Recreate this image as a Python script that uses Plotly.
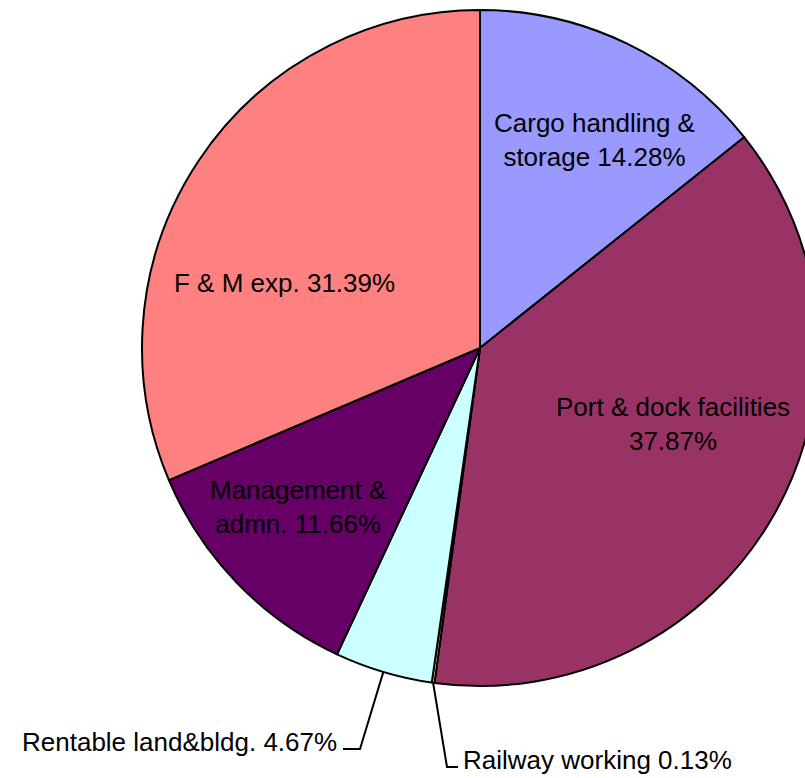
"""Operating expenditure share - pie chart"""

import math
import plotly.graph_objects as go

labels = [
    "Cargo handling & storage",
    "Port & dock facilities",
    "Railway working",
    "Rentable land&bldg.",
    "Management & admn.",
    "F & M exp.",
]
shares = [14.28, 37.87, 0.13, 4.67, 11.66, 31.39]
colors = ["#9999FF", "#993366", "#FFFFCC", "#CCFFFF", "#660066", "#FF8080"]

# figure geometry (pixels); the pie runs past the right edge of the window
W, H = 830, 778
ML, MR, MT, MB = 142, 12, 10, 92
SIDE = W - ML - MR
CX, CY, R = ML + SIDE / 2, MT + SIDE / 2, SIDE / 2


def to_paper(x, y):
    return (x - ML) / SIDE, 1 - (y - MT) / SIDE


def mid_angle(i):
    before = sum(shares[:i])
    return (before + shares[i] / 2) / sum(shares) * 2 * math.pi


def edge_point(i):
    a = mid_angle(i)
    return CX + R * math.sin(a), CY - R * math.cos(a)


# label text: where to break the line
breaks = {
    "Cargo handling & storage": "Cargo handling &<br>storage",
    "Port & dock facilities": "Port & dock facilities<br>",
    "Management & admn.": "Management &<br>admn.",
}

# label placement (pixels) and anchoring
label_pos = [
    (594, 140, "center"),
    (673, 424, "center"),
    (461, 760, "left"),
    (339, 742, "right"),
    (298, 507, "center"),
    (284, 283, "center"),
]
# elbows for leader lines of the small slices
leader = {
    2: [(447, 767), (458, 767)],
    3: [(360, 749), (343, 749)],
}

fig = go.Figure(go.Pie(
    labels=labels,
    values=shares,
    sort=False,
    direction="clockwise",
    rotation=0,
    textinfo="none",
    marker=dict(colors=colors, line=dict(color="black", width=2)),
    showlegend=False,
    hoverinfo="label+percent",
))

font = dict(family="Liberation Sans, Arial, sans-serif", size=26, color="black")

annotations = []
for i, lab in enumerate(labels):
    head = breaks.get(lab, lab)
    sep = "" if head.endswith("<br>") else " "
    text = f"{head}{sep}{shares[i]:.2f}%"
    x, y, anchor = label_pos[i]
    xp, yp = to_paper(x, y)
    annotations.append(dict(
        x=xp, y=yp, xref="paper", yref="paper", text=text,
        showarrow=False, xanchor=anchor, yanchor="middle", align="center",
        font=font,
    ))

shapes = []
for i, pts in leader.items():
    pts = [edge_point(i)] + pts
    path = "M " + " L ".join(f"{to_paper(x, y)[0]},{to_paper(x, y)[1]}" for x, y in pts)
    shapes.append(dict(type="path", path=path, xref="paper", yref="paper",
                       line=dict(color="black", width=2)))

fig.update_layout(
    width=W,
    height=H,
    margin=dict(l=ML, r=MR, t=MT, b=MB, pad=0),
    paper_bgcolor="white",
    plot_bgcolor="white",
    annotations=annotations,
    shapes=shapes,
    font=font,
)

fig.write_html(
    "out.html",
    config={"displayModeBar": False},
    post_script="document.body.style.margin='0';document.body.style.overflow='hidden';",
)
